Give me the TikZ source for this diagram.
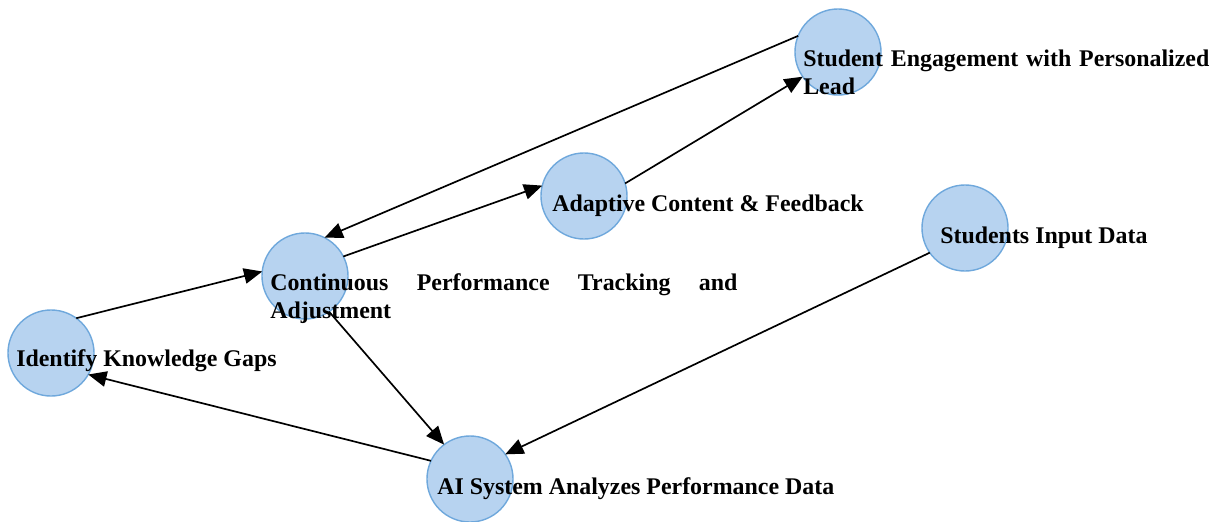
\documentclass[tikz,border=0pt]{standalone}
\usepackage{fontspec}
\setmainfont{Liberation Serif}
\usetikzlibrary{arrows.meta,calc}
\definecolor{stagefill}{RGB}{183,211,240}
\definecolor{stageline}{RGB}{111,168,220}
\tolerance=10000
\hyphenpenalty=10000
\tikzset{
  stage/.style={circle,fill=stagefill,draw=stageline,line width=1pt,
    minimum size=2.15cm,inner sep=0pt,outer sep=0pt},
  caption/.style={anchor=base west,inner sep=0pt,
    font=\fontsize{17}{20}\selectfont\bfseries},
  flow/.style={-{Triangle[length=13pt,width=11pt]},line width=1.2pt},
}
\begin{document}
\begin{tikzpicture}[x=0.025cm,y=-0.025cm]
                \useasboundingbox (0,0) rectangle (1218,521);
                %% stages
                \foreach \name/\pos in {engage/{838,52},adapt/{584,196},input/{965,228},
                                        track/{305,276},gaps/{51,353},analyze/{470,479}}
                    \node[stage] (\name) at (\pos) {};
                %% flows
                \draw[flow] (engage.158) -- (track.63);
                \draw[flow] (track.27) -- (adapt.166);
                \draw[flow] (adapt.17) -- (engage.215);
                \draw[flow] (input.215) -- (analyze.35);
                \draw[flow] (track.-56) -- (analyze.127);
                \draw[flow] (analyze.155) -- (gaps.-30);
                \draw[flow] (gaps.54) -- (track.174);
                %% captions
                \node[caption,text width=10.15cm,align=justify] (engageT) at ($(engage)+(-35,14)$)
                    {Student Engagement with Personalized Lead};
                \node[caption] (adaptT) at ($(adapt)+(-32,15)$) {Adaptive Content \& Feedback};
                \node[caption] (inputT) at ($(input)+(-25,15)$) {Students Input Data};
                \node[caption,text width=11.675cm,align=justify] (trackT) at ($(track)+(-35,14)$)
                    {Continuous Performance Tracking and Adjustment};
                \node[caption] (gapsT) at ($(gaps)+(-35,13)$) {Identify Knowledge Gaps};
                \node[caption] (analyzeT) at ($(analyze)+(-33,15)$) {AI System Analyzes Performance Data};
            \end{tikzpicture}
\end{document}
